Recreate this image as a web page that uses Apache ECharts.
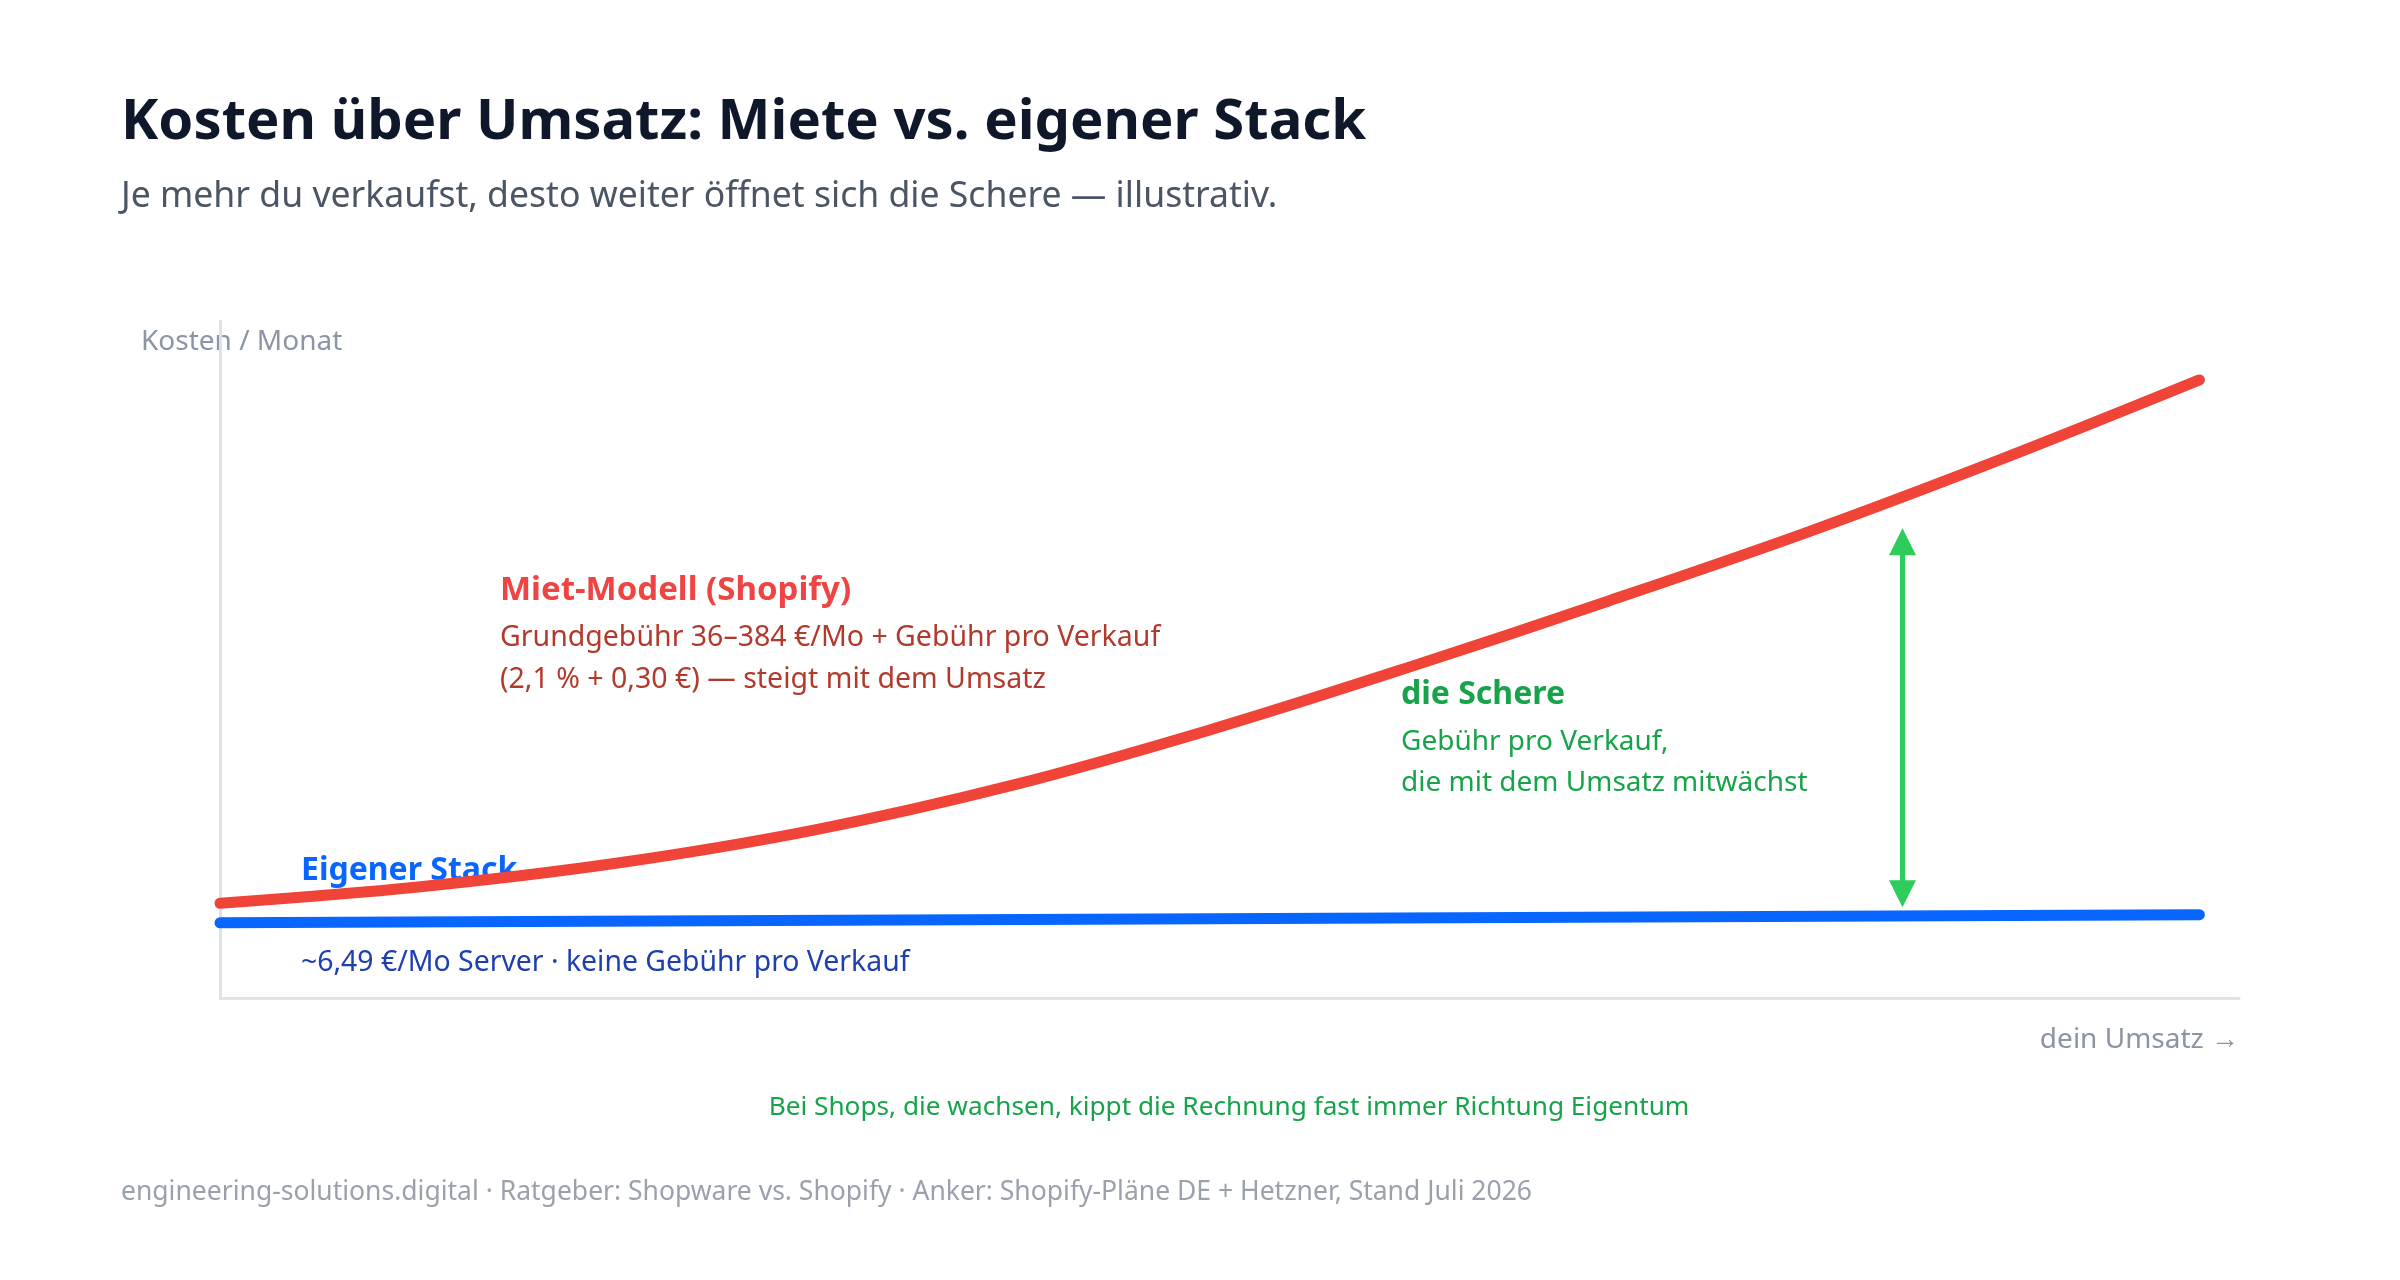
<!DOCTYPE html>
<html><head><meta charset="utf-8">
<script src="https://cdn.jsdelivr.net/npm/echarts@6/dist/echarts.min.js"></script>
<style>html,body{margin:0;padding:0;background:#fff}#c{width:2400px;height:1280px}</style>
</head><body><div id="c"></div>
<script>
// Umsatz (illustrativ, 0..100)
var revenue = [0, 10, 20, 30, 40, 50, 60, 70, 80, 90, 100];
// Kosten Miet-Modell (Shopify), illustrative units 0..100
var rentCost = [14.0, 16.4, 19.9, 24.8, 31.4, 39.6, 48.8, 58.5, 68.6, 79.6, 91.3];
// Eigener Stack
var ownRevenue = [0, 50, 100];
var ownCost = [11.1, 11.7, 12.3];
// Schere (Pfeil, Mittelpunkte der Pfeilspitzen)
var scissorX = 85;
var scissorFrom = 15.4;
var scissorTo = 67.4;

var FONT = '"Noto Sans", "Open Sans", sans-serif';
var chart = echarts.init(document.getElementById('c'), null, {renderer: 'canvas'});

function pairs(xs, ys) { return xs.map(function (x, i) { return [x, ys[i]]; }); }

function txt(x, y, text, size, color, weight, align) {
  return {type: 'text', x: x, y: y, silent: true,
    style: {text: text, font: (weight || 'normal') + ' ' + size + 'px ' + FONT, fill: color,
      textAlign: align || 'left', textVerticalAlign: 'middle'}};
}

var axisStyle = {show: true, lineStyle: {color: '#dfe2e9', width: 3}};

chart.setOption({
  animation: false,
  backgroundColor: '#ffffff',
  grid: {left: 220, right: 161, top: 321, bottom: 282},
  xAxis: {type: 'value', min: 0, max: 102, axisLine: axisStyle, axisTick: {show: false},
    axisLabel: {show: false}, splitLine: {show: false}},
  yAxis: {type: 'value', min: 0, max: 100, axisLine: axisStyle, axisTick: {show: false},
    axisLabel: {show: false}, splitLine: {show: false}},
  series: [
    {type: 'line', name: 'Eigener Stack', data: pairs(ownRevenue, ownCost), showSymbol: false,
      lineStyle: {color: '#0866ff', width: 11, cap: 'round'}, z: 3},
    {type: 'line', name: 'Miet-Modell (Shopify)', data: pairs(revenue, rentCost), smooth: 0.35,
      showSymbol: false,
      lineStyle: {color: '#f04438', width: 11, cap: 'round'}, z: 2,
      markLine: {silent: true, symbol: ['triangle', 'triangle'], symbolSize: [27, 27], label: {show: false},
        lineStyle: {color: '#2ecc5b', width: 5, type: 'solid'},
        data: [[{coord: [scissorX, scissorFrom]}, {coord: [scissorX, scissorTo]}]]}}
  ],
  graphic: [
    txt(121, 123, 'Kosten über Umsatz: Miete vs. eigener Stack', 56.2, '#0f172a', 'bold'),
    txt(121, 197, 'Je mehr du verkaufst, desto weiter öffnet sich die Schere — illustrativ.', 35.6, '#4b5563'),
    txt(141, 342, 'Kosten / Monat', 28, '#8b95a5'),
    txt(500, 591, 'Miet-Modell (Shopify)', 33, '#ef4444', 'bold'),
    txt(500, 638, 'Grundgebühr 36–384 €/Mo + Gebühr pro Verkauf', 28.5, '#b23a2c'),
    txt(500, 680, '(2,1 % + 0,30 €) — steigt mit dem Umsatz', 28.5, '#b23a2c'),
    txt(301, 871, 'Eigener Stack', 32, '#0866ff', 'bold'),
    txt(301, 963, '~6,49 €/Mo Server · keine Gebühr pro Verkauf', 28.4, '#1e40af'),
    txt(1401, 695, 'die Schere', 32, '#16a34a', 'bold'),
    txt(1401, 742, 'Gebühr pro Verkauf,', 28, '#16a34a'),
    txt(1401, 783, 'die mit dem Umsatz mitwächst', 28, '#16a34a'),
    txt(2239, 1040, 'dein Umsatz →', 28, '#8b95a5', 'normal', 'right'),
    txt(1229, 1108, 'Bei Shops, die wachsen, kippt die Rechnung fast immer Richtung Eigentum', 26.2, '#16a34a', 'normal', 'center'),
    txt(121, 1192, 'engineering-solutions.digital · Ratgeber: Shopware vs. Shopify · Anker: Shopify-Pläne DE + Hetzner, Stand Juli 2026', 26.5, '#9aa1ad')
  ]
});
</script></body></html>
